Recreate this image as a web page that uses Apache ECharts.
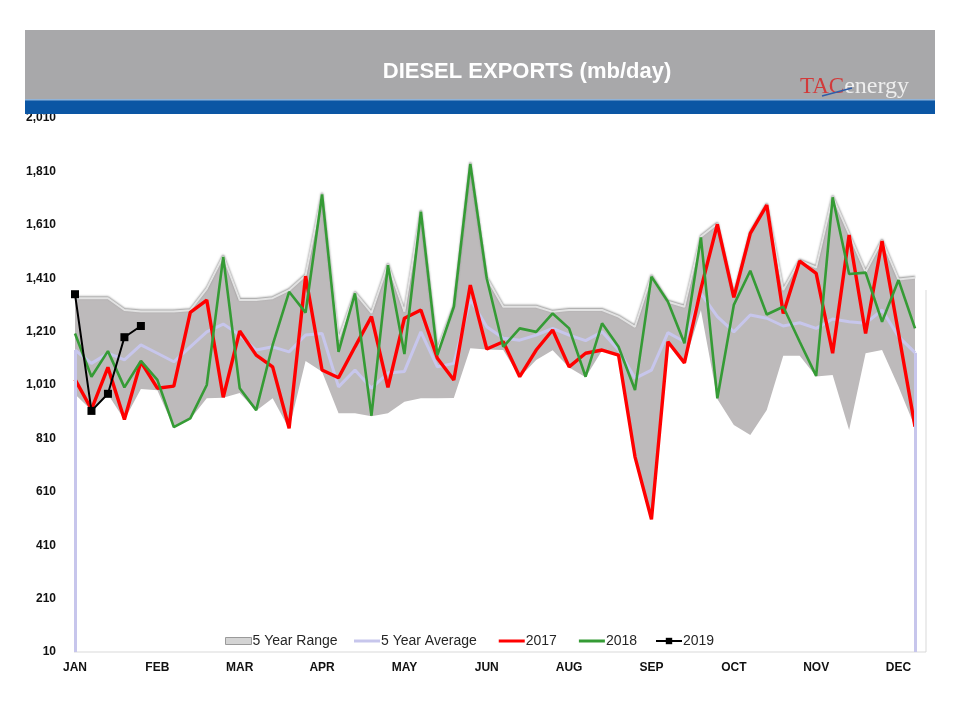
<!DOCTYPE html>
<html>
<head>
<meta charset="utf-8">
<script src="https://cdn.jsdelivr.net/npm/echarts@6/dist/echarts.min.js"></script>
<style>
  html, body { margin: 0; padding: 0; background: #ffffff; }
  #chart { width: 960px; height: 720px; }
</style>
</head>
<body>
<div id="chart"></div>
<script>
// ---- data (mb/day), 52 weekly points ----
var weeks = [];
for (var w = 1; w <= 52; w++) weeks.push('W' + w);
var monthTicks = ['JAN', 'FEB', 'MAR', 'APR', 'MAY', 'JUN', 'AUG', 'SEP', 'OCT', 'NOV', 'DEC'];

var rangeMin = [975, 915, 975, 880, 995, 990, 850, 883, 960, 962, 980, 914, 960, 846, 1100, 1060, 904, 904, 893, 904,
  947, 960, 960, 961, 1148, 1143, 1141, 1039, 1104, 1140, 1076, 1039, 1139, 1120, 739, 505, 1170, 1091, 1290, 958,
  860, 823, 916, 1120, 1120, 1042, 1047, 841, 1129, 1141, 1003, 852];
var rangeMax = [1335, 1335, 1335, 1291, 1285, 1285, 1285, 1290, 1370, 1492, 1328, 1328, 1335, 1365, 1420, 1726, 1180, 1355, 1280, 1461,
  1285, 1661, 1140, 1305, 1840, 1411, 1303, 1303, 1303, 1284, 1291, 1291, 1291, 1266, 1228, 1418, 1322, 1303, 1565, 1614,
  1345, 1580, 1686, 1366, 1476, 1450, 1715, 1574, 1433, 1551, 1405, 1412];
var avg5 = [1141, 1091, 1129, 1104, 1160, 1129, 1097, 1153, 1209, 1238, 1197, 1141, 1153, 1134, 1197, 1203, 1003, 1066, 998, 1055,
  1061, 1209, 1078, 1091, 1330, 1228, 1185, 1178, 1197, 1222, 1197, 1176, 1209, 1141, 1035, 1066, 1206, 1172, 1353, 1266,
  1209, 1272, 1260, 1231, 1243, 1222, 1257, 1247, 1241, 1291, 1191, 1131];
var y2017 = [1031, 919, 1076, 881, 1097, 998, 1006, 1282, 1328, 964, 1212, 1122, 1078, 848, 1418, 1066, 1037, 1153, 1266, 1001,
  1260, 1291, 1110, 1029, 1384, 1145, 1172, 1041, 1141, 1216, 1078, 1129, 1141, 1122, 741, 507, 1172, 1093, 1370, 1612,
  1338, 1578, 1684, 1278, 1474, 1428, 1129, 1572, 1203, 1549, 1205, 854];
var y2018 = [1203, 1041, 1137, 1001, 1100, 1029, 852, 885, 1010, 1490, 998, 916, 1160, 1359, 1281, 1724, 1134, 1353, 895, 1459,
  1126, 1659, 1122, 1303, 1838, 1409, 1153, 1222, 1209, 1278, 1222, 1041, 1241, 1153, 991, 1416, 1322, 1166, 1563, 960,
  1310, 1438, 1274, 1303, 1172, 1044, 1713, 1426, 1431, 1247, 1403, 1222];
var y2019 = [1350, 913, 977, 1189, 1231];

var yMin = 10, yMax = 2010, yStep = 200;

// derived: band height for stacked range
var rangeBand = rangeMax.map(function (v, i) { return v - rangeMin[i]; });
var last = weeks.length - 1;

var chart = echarts.init(document.getElementById('chart'), null, { renderer: 'canvas' });
var axisFont = 'Liberation Sans Narrow, Arial Narrow, Liberation Sans, Arial, sans-serif';
var legendText = { fontFamily: 'Liberation Sans, Arial, sans-serif', fontSize: 14, color: '#262626', padding: [0, 0, 0, -4] };
var AVG_C = '#c7c6ec';

chart.setOption({
  animation: false,
  backgroundColor: '#ffffff',
  grid: { left: 75, right: 45, top: 118, bottom: 68, containLabel: false },
  legend: [
    {
      left: 220, top: 629, itemWidth: 26, itemHeight: 7,
      textStyle: legendText,
      data: [{ name: '5 Year Range', icon: 'rect', itemStyle: { color: '#d4d4d4', borderColor: '#9a9a9a', borderWidth: 1 } }]
    },
    {
      left: 349, top: 629, itemWidth: 26, itemHeight: 3, itemGap: 22,
      textStyle: legendText,
      data: [
        { name: '5 Year Average', icon: 'rect' },
        { name: '2017', icon: 'rect' },
        { name: '2018', icon: 'rect' }
      ]
    },
    {
      left: 650, top: 629, itemWidth: 26, itemHeight: 8,
      textStyle: legendText,
      data: [{ name: '2019' }]
    }
  ],
  xAxis: {
    type: 'category',
    data: weeks,
    boundaryGap: false,
    axisLine: { show: false },
    axisTick: { show: false },
    axisLabel: {
      interval: 4,
      margin: 10,
      fontFamily: axisFont, fontSize: 12, fontWeight: 'bold', color: '#111',
      formatter: function (v, i) { return i % 5 === 0 ? (monthTicks[i / 5] || '') : ''; }
    },
    splitLine: { show: false }
  },
  yAxis: {
    type: 'value',
    min: yMin, max: yMax, interval: yStep,
    axisLine: { show: false },
    axisTick: { show: false },
    splitLine: { show: false },
    axisLabel: {
      margin: 19,
      fontFamily: axisFont, fontSize: 12, fontWeight: 'bold', color: '#111',
      formatter: function (v) { return v.toLocaleString('en-US'); }
    }
  },
  series: [
    {
      name: 'rangeBase', type: 'line', stack: 'range', data: rangeMin,
      symbol: 'none', lineStyle: { opacity: 0 }, areaStyle: { opacity: 0 },
      silent: true, z: 1
    },
    {
      name: '5 Year Range', type: 'line', stack: 'range', data: rangeBand,
      symbol: 'none',
      lineStyle: { color: '#e2e2e2', width: 2, shadowColor: 'rgba(70,70,70,0.6)', shadowBlur: 2, shadowOffsetY: -1 },
      itemStyle: { color: '#d4d4d4', borderColor: '#9a9a9a' },
      areaStyle: { color: '#bdbabb', opacity: 1 },
      z: 2
    },
    {
      name: '5 Year Average', type: 'line', data: avg5, symbol: 'none',
      lineStyle: { color: AVG_C, width: 3 },
      itemStyle: { color: AVG_C },
      z: 3,
      markLine: {
        silent: true, symbol: ['none', 'none'],
        label: { show: false },
        lineStyle: { color: AVG_C, width: 3, type: 'solid' },
        data: [
          [{ coord: [0, yMin] }, { coord: [0, avg5[0]] }],
          [{ coord: [last, yMin] }, { coord: [last, avg5[last]] }]
        ]
      }
    },
    {
      name: '2017', type: 'line', data: y2017, symbol: 'none',
      lineStyle: { color: '#ff0000', width: 3.4 },
      itemStyle: { color: '#ff0000' }, z: 4
    },
    {
      name: '2018', type: 'line', data: y2018, symbol: 'none',
      lineStyle: { color: '#359b35', width: 2.6 },
      itemStyle: { color: '#359b35' }, z: 5
    },
    {
      name: '2019', type: 'line', data: y2019, symbol: 'rect', symbolSize: 8, showSymbol: true,
      lineStyle: { color: '#000000', width: 2 },
      itemStyle: { color: '#000000' }, z: 6
    }
  ],
  graphic: [
    { type: 'rect', shape: { x: 25, y: 30, width: 910, height: 71 }, style: { fill: '#a8a8aa' }, z: 100 },
    { type: 'rect', shape: { x: 25, y: 100, width: 910, height: 14 }, style: { fill: '#0b56a4' }, z: 100 },
    { type: 'rect', shape: { x: 25, y: 99, width: 910, height: 1.5 }, style: { fill: '#8fb3d9' }, z: 101 },
    {
      type: 'text', x: 527, y: 72, z: 102,
      style: {
        text: 'DIESEL EXPORTS (mb/day)',
        font: 'bold 22px Liberation Sans, Arial, sans-serif',
        fill: '#ffffff', align: 'center', verticalAlign: 'middle',
        shadowColor: 'rgba(0,0,0,0.7)', shadowBlur: 2, shadowOffsetX: 1, shadowOffsetY: 1
      }
    },
    {
      type: 'text', x: 800, y: 99, z: 102,
      style: {
        text: '{t|TAC}{e|energy}',
        verticalAlign: 'bottom',
        rich: {
          t: { fontFamily: 'Liberation Serif, serif', fontSize: 23, fill: '#d23a3a', color: '#d23a3a' },
          e: { fontFamily: 'Liberation Serif, serif', fontSize: 24, fill: '#eeeeee', color: '#eeeeee' }
        }
      }
    },
    { type: 'line', shape: { x1: 822, y1: 96, x2: 852, y2: 88 }, style: { stroke: '#2f5da8', lineWidth: 1.3 }, z: 103 },
    { type: 'polyline', shape: { points: [[74, 652], [926, 652], [926, 290]] }, style: { fill: 'none', stroke: '#d9d9d9', lineWidth: 1 }, z: 0 }
  ]
});
</script>
</body>
</html>
